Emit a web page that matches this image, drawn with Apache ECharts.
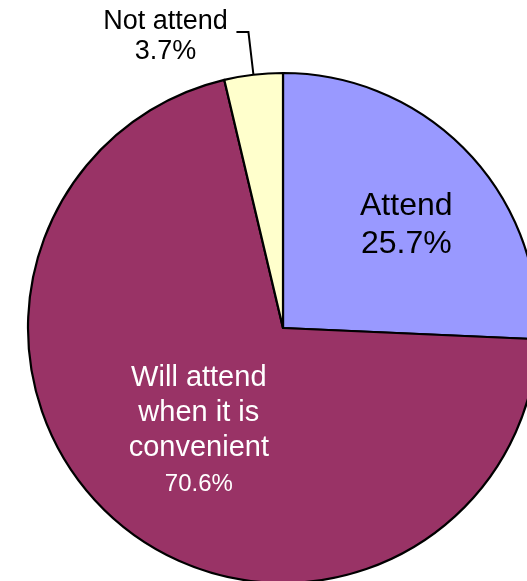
<!DOCTYPE html>
<html>
<head>
<meta charset="utf-8">
<script src="https://cdn.jsdelivr.net/npm/echarts@6/dist/echarts.min.js"></script>
<style>html,body{margin:0;padding:0;background:#fff;}#c{width:527px;height:581px;}</style>
</head>
<body>
<div id="c"></div>
<script>
var categories = ['Attend', 'Will attend\nwhen it is\nconvenient', 'Not attend'];
var values = [25.7, 70.6, 3.7];
var colors = ['#9999FF', '#993366', '#FFFFCC'];

var chart = echarts.init(document.getElementById('c'), null, {renderer: 'canvas'});
var FONT = 'Liberation Sans';

function lines(name, style) {
  return name.split('\n').map(function (s) { return '{' + style + '|' + s + '}'; }).join('\n');
}

var data = [
  {
    name: categories[0], value: values[0],
    itemStyle: {color: colors[0]},
    label: {
      position: 'inside', offset: [29, -13],
      formatter: function (p) { return lines(p.name, 'a') + '\n{a|' + p.value.toFixed(1) + '%}'; },
      rich: {a: {fontFamily: FONT, fontSize: 32, lineHeight: 38, color: '#000', align: 'center'}}
    },
    labelLine: {show: false}
  },
  {
    name: categories[1], value: values[1],
    itemStyle: {color: colors[1]},
    label: {
      position: 'inside', offset: [-1, 3],
      formatter: function (p) { return lines(p.name, 'a') + '\n{b|' + p.value.toFixed(1) + '%}'; },
      rich: {
        a: {fontFamily: FONT, fontSize: 29, lineHeight: 35, color: '#fff', align: 'center'},
        b: {fontFamily: FONT, fontSize: 24, lineHeight: 38, color: '#fff', align: 'center'}
      }
    },
    labelLine: {show: false}
  },
  {
    name: categories[2], value: values[2],
    itemStyle: {color: colors[2]},
    label: {
      position: 'outside',
      padding: [10, 0, 0, 0],
      formatter: function (p) { return lines(p.name, 'a') + '\n{a|' + p.value.toFixed(1) + '%}'; },
      rich: {a: {fontFamily: FONT, fontSize: 27, lineHeight: 30, color: '#000', width: 132, align: 'center'}}
    },
    labelLine: {show: true, length: 43, length2: 12, smooth: false, lineStyle: {color: '#000', width: 2}}
  }
];

chart.setOption({
  animation: false,
  backgroundColor: '#fff',
  series: [{
    type: 'pie',
    center: [283, 328],
    radius: 255,
    startAngle: 90,
    clockwise: true,
    avoidLabelOverlap: false,
    itemStyle: {borderColor: '#000', borderWidth: 2.2},
    emphasis: {disabled: true},
    label: {fontFamily: FONT},
    data: data
  }]
});
</script>
</body>
</html>
